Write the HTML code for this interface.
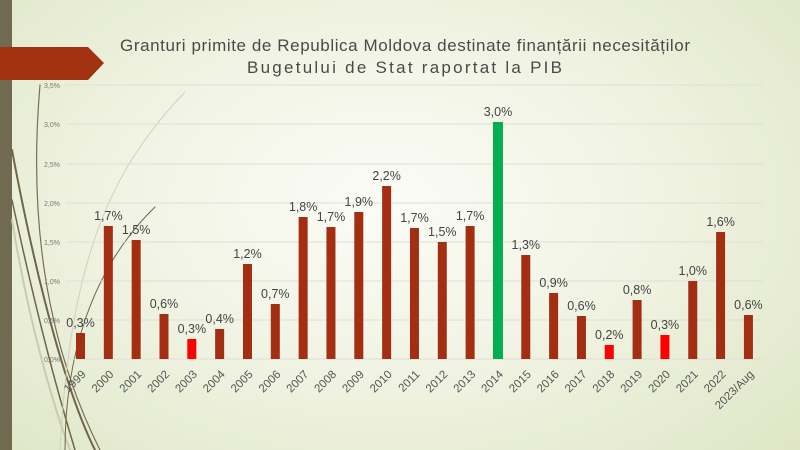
<!DOCTYPE html>
<html><head><meta charset="utf-8"><style>
html,body{margin:0;padding:0;width:800px;height:450px;overflow:hidden}
body{background:radial-gradient(ellipse 70% 80% at 48% 45%,#fbfcf7 0%,#f1f4e4 45%,#dfe6c6 100%);font-family:"Liberation Sans",sans-serif}
</style></head><body>
<svg width="800" height="450" viewBox="0 0 800 450" xmlns="http://www.w3.org/2000/svg" style="position:absolute;left:0;top:0">
<rect x="0" y="0" width="12" height="450" fill="#6f6a50"/>
<g fill="none" stroke-linecap="round">
<path d="M40 85 C30 200 40 330 100 450" stroke="#7a6f55" stroke-width="1.2"/>
<path d="M12 150 C40 300 70 400 95 450" stroke="#6f6548" stroke-width="2"/>
<path d="M12 200 C40 330 60 400 75 450" stroke="#6f6548" stroke-width="1.5"/>
<path d="M12 220 C30 330 55 410 70 450" stroke="#c9ccb0" stroke-width="2"/>
<path d="M185 92 C110 170 70 260 60 450" stroke="#cfd1bb" stroke-width="1"/>
<path d="M155 207 C90 270 65 360 65 450" stroke="#6f6548" stroke-width="1"/>
</g>
<polygon points="0,47 88,47 104,63 88,80 0,80" fill="#a33212"/>
<text x="120" y="51" textLength="570" lengthAdjust="spacing" font-size="17" fill="#4a4a4a">Granturi primite de Republica Moldova destinate finanțării necesităților</text>
<text x="247" y="73" textLength="315" lengthAdjust="spacing" font-size="17" fill="#4a4a4a">Bugetului de Stat raportat la PIB</text>
<g stroke="#dedfd8" stroke-width="1">
<line x1="66" x2="763" y1="85" y2="85"/><line x1="66" x2="763" y1="124" y2="124"/><line x1="66" x2="763" y1="164" y2="164"/><line x1="66" x2="763" y1="203" y2="203"/><line x1="66" x2="763" y1="242" y2="242"/><line x1="66" x2="763" y1="281" y2="281"/><line x1="66" x2="763" y1="320" y2="320"/><line x1="66" x2="763" y1="359" y2="359"/>
</g>
<g font-size="7" fill="#777" text-anchor="end">
<text x="60" y="88">3,5%</text><text x="60" y="127">3,0%</text><text x="60" y="167">2,5%</text><text x="60" y="206">2,0%</text><text x="60" y="245">1,5%</text><text x="60" y="284">1,0%</text><text x="60" y="323">0,5%</text><text x="60" y="362">0,0%</text>
</g>
<g id="bars"></g>
</svg>
<script>
var d=[["1999",333,"0,3%"],["2000",226,"1,7%"],["2001",240,"1,5%"],["2002",314,"0,6%"],["2003",339,"0,3%",1],["2004",329,"0,4%"],["2005",264,"1,2%"],["2006",304,"0,7%"],["2007",217,"1,8%"],["2008",227,"1,7%"],["2009",212,"1,9%"],["2010",186,"2,2%"],["2011",228,"1,7%"],["2012",242,"1,5%"],["2013",226,"1,7%"],["2014",122,"3,0%",2],["2015",255,"1,3%"],["2016",293,"0,9%"],["2017",316,"0,6%"],["2018",345,"0,2%",1],["2019",300,"0,8%"],["2020",335,"0,3%",1],["2021",281,"1,0%"],["2022",232,"1,6%"],["2023/Aug",315,"0,6%"]];
var g=document.getElementById("bars"),s="";
d.forEach(function(r,i){var cx=80.5+i*27.83,c=r[3]==1?"#ff0000":r[3]==2?"#00b050":"#a32e12",w=r[3]==2?10:9;
s+='<rect x="'+(cx-w/2)+'" y="'+r[1]+'" width="'+w+'" height="'+(359-r[1])+'" fill="'+c+'"/>';
s+='<text x="'+cx+'" y="'+(r[1]-6)+'" text-anchor="middle" font-size="12.5" fill="#444">'+r[2]+'</text>';
s+='<text transform="translate('+(cx+6)+',375) rotate(-45)" text-anchor="end" font-size="11.5" fill="#555">'+r[0]+'</text>';});
g.innerHTML=s;
</script>
</body></html>
